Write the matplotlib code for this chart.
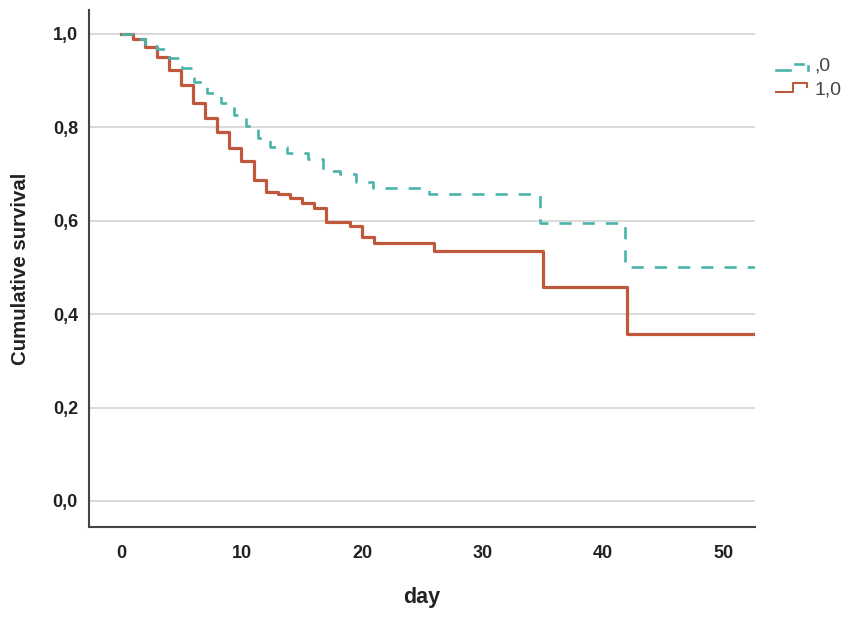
import matplotlib.pyplot as plt
from matplotlib.lines import Line2D

# Kaplan-Meier step data
days_0 = [0, 1, 2, 3, 4, 5.1, 6.1, 7.1, 8.3, 9.4, 10.4, 11.4, 12.4, 13.8, 15.5,
          16.8, 18.2, 19.5, 20.9, 25.6, 34.8, 41.8]
surv_0 = [1.0, 0.99, 0.975, 0.967, 0.948, 0.926, 0.898, 0.874, 0.853, 0.827, 0.803,
          0.778, 0.757, 0.744, 0.732, 0.707, 0.701, 0.682, 0.670, 0.657, 0.595, 0.502]

days_1 = [0, 1, 2, 3, 4, 5, 6, 7, 8, 9, 10, 11, 12, 13, 14, 15, 16, 17, 19, 20, 21,
          26, 35, 42]
surv_1 = [1.0, 0.989, 0.971, 0.951, 0.923, 0.891, 0.852, 0.819, 0.791, 0.755, 0.727,
          0.687, 0.662, 0.657, 0.648, 0.637, 0.627, 0.597, 0.588, 0.566, 0.552, 0.535,
          0.458, 0.358]
end_day = 52.6

groups = [",0", "1,0"]
yticks = [0.0, 0.2, 0.4, 0.6, 0.8, 1.0]
ytick_labels = ["0,0", "0,2", "0,4", "0,6", "0,8", "1,0"]
xticks = [0, 10, 20, 30, 40, 50]

green = "#4ab4aa"
red = "#bf583c"

plt.rcParams['font.family'] = ['Liberation Sans', 'DejaVu Sans']

fig = plt.figure(figsize=(8.51, 6.2), dpi=100)
ax = fig.add_axes([0.1046, 0.15, 0.887 - 0.1046, 0.984 - 0.15])

for y in yticks:
    ax.axhline(y, color="#cfcfcf", lw=1.1, zorder=0)

ax.step(days_0 + [end_day], surv_0 + [surv_0[-1]], where="post", color=green,
        lw=1.9, linestyle=(0, (4.6, 4.2)), zorder=3)
ax.step(days_1 + [end_day], surv_1 + [surv_1[-1]], where="post", color=red,
        lw=2.3, zorder=2)

ax.set_xlim(-2.65, 52.6)
ax.set_ylim(-0.0557, 1.0514)
ax.set_xticks(xticks)
ax.set_xticklabels([str(x) for x in xticks], fontsize=13, fontweight="bold", color="#222")
ax.set_yticks(yticks)
ax.set_yticklabels(ytick_labels, fontsize=13, fontweight="bold", color="#222")
ax.tick_params(length=0, pad=8)
ax.tick_params(axis="x", pad=13)

for s in ["top", "right"]:
    ax.spines[s].set_visible(False)
for s in ["left", "bottom"]:
    ax.spines[s].set_color("#444444")
    ax.spines[s].set_linewidth(1.5)

ax.set_xlabel("day", fontsize=15.5, fontweight="bold", color="#222", labelpad=18)
ax.set_ylabel("Cumulative survival", fontsize=14.7, fontweight="bold", color="#222",
              labelpad=16)

# SPSS style legend at the right
W, H = 851.0, 620.0
def fx(px):
    return px / W
def fy(py):
    return 1 - py / H

fig.add_artist(Line2D([fx(776), fx(790)], [fy(70), fy(70)], color=green, lw=1.9))
fig.add_artist(Line2D([fx(795), fx(803)], [fy(64), fy(64)], color=green, lw=1.9))
fig.add_artist(Line2D([fx(808), fx(808)], [fy(66), fy(70)], color=green, lw=1.9))
fig.add_artist(Line2D([fx(776), fx(793), fx(793), fx(807), fx(807)],
                      [fy(92), fy(92), fy(83), fy(83), fy(87)], color=red, lw=1.5))
fig.text(fx(814), fy(66), groups[0], fontsize=14, color="#444", va="center")
fig.text(fx(814), fy(90), groups[1], fontsize=14, color="#444", va="center")

fig.savefig("out.png", dpi=100)
